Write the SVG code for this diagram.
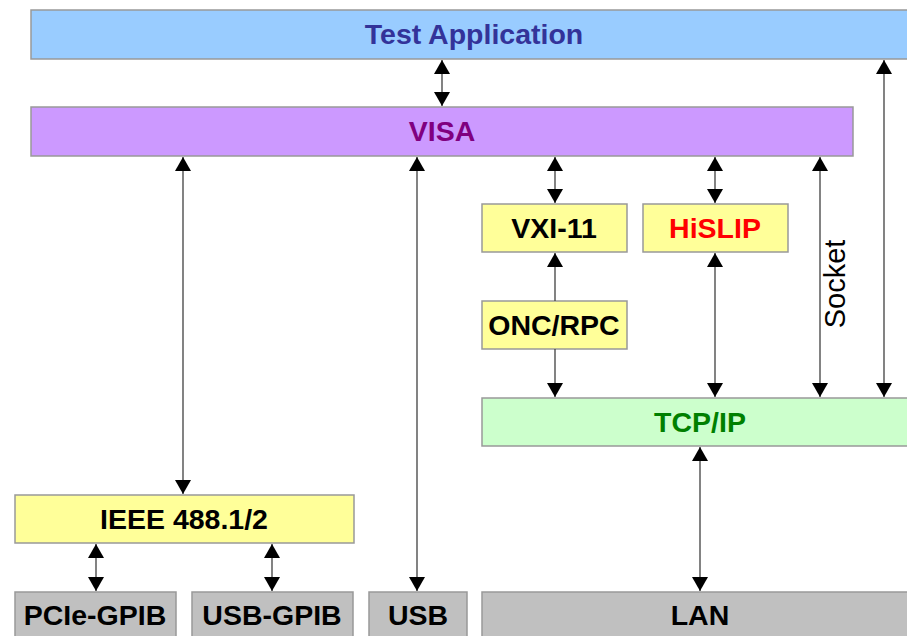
<svg xmlns="http://www.w3.org/2000/svg" width="907" height="636" viewBox="0 0 907 636">
<style>
.box{stroke:#999999;stroke-width:1.5}
.t{font-family:"Liberation Sans",Arial,sans-serif;font-weight:bold;font-size:28.5px;text-anchor:middle}
.c{stroke:#404040;stroke-width:1.3;fill:none}
</style>
<defs>
<marker id="ah" viewBox="0 0 14 16" refX="14" refY="8" markerWidth="14" markerHeight="16" markerUnits="userSpaceOnUse" orient="auto-start-reverse">
<path d="M0,0 L14,8 L0,16 z" fill="#000"/>
</marker>
</defs>
<rect width="907" height="636" fill="#fff"/>
<g id="app"><rect class="box" x="31" y="10" width="890" height="49" fill="#99ccff"/><text class="t" x="474" y="44" fill="#333399">Test Application</text></g>
<g id="visa"><rect class="box" x="31" y="107" width="822" height="49" fill="#cc99ff"/><text class="t" x="442" y="141" fill="#800080">VISA</text></g>
<g id="vxi11"><rect class="box" x="482" y="204" width="145" height="48" fill="#ffff99"/><text class="t" x="554" y="238" fill="#000">VXI-11</text></g>
<g id="hislip"><rect class="box" x="643" y="204" width="145" height="48" fill="#ffff99"/><text class="t" x="715" y="238" fill="#ff0000">HiSLIP</text></g>
<g id="oncrpc"><rect class="box" x="482" y="301" width="145" height="48" fill="#ffff99"/><text class="t" x="554" y="335" fill="#000">ONC/RPC</text></g>
<g id="tcpip"><rect class="box" x="482" y="398" width="440" height="48" fill="#ccffcc"/><text class="t" x="700" y="432" fill="#008000">TCP/IP</text></g>
<g id="ieee"><rect class="box" x="15" y="495" width="339" height="48" fill="#ffff99"/><text class="t" x="184" y="529" fill="#000">IEEE 488.1/2</text></g>
<g id="pcie"><rect class="box" x="15" y="592" width="161" height="60" fill="#c0c0c0"/><text class="t" x="95" y="625" fill="#000">PCIe-GPIB</text></g>
<g id="usbgpib"><rect class="box" x="192" y="592" width="161" height="60" fill="#c0c0c0"/><text class="t" x="272" y="625" fill="#000">USB-GPIB</text></g>
<g id="usb"><rect class="box" x="369" y="592" width="98" height="60" fill="#c0c0c0"/><text class="t" x="418" y="625" fill="#000">USB</text></g>
<g id="lan"><rect class="box" x="482" y="592" width="440" height="60" fill="#c0c0c0"/><text class="t" x="700" y="625" fill="#000">LAN</text></g>
<g id="connectors">
<line class="c" x1="442" y1="60" x2="442" y2="106" marker-start="url(#ah)" marker-end="url(#ah)"/>
<line class="c" x1="884" y1="60" x2="884" y2="397" marker-start="url(#ah)" marker-end="url(#ah)"/>
<line class="c" x1="183" y1="157" x2="183" y2="494" marker-start="url(#ah)" marker-end="url(#ah)"/>
<line class="c" x1="417" y1="157" x2="417" y2="591" marker-start="url(#ah)" marker-end="url(#ah)"/>
<line class="c" x1="555" y1="157" x2="555" y2="203" marker-start="url(#ah)" marker-end="url(#ah)"/>
<line class="c" x1="715" y1="157" x2="715" y2="203" marker-start="url(#ah)" marker-end="url(#ah)"/>
<line class="c" x1="820" y1="157" x2="820" y2="397" marker-start="url(#ah)" marker-end="url(#ah)"/>
<line class="c" x1="555" y1="301" x2="555" y2="253" marker-end="url(#ah)"/>
<line class="c" x1="555" y1="349" x2="555" y2="397" marker-end="url(#ah)"/>
<line class="c" x1="715" y1="253" x2="715" y2="397" marker-start="url(#ah)" marker-end="url(#ah)"/>
<line class="c" x1="700" y1="447" x2="700" y2="591" marker-start="url(#ah)" marker-end="url(#ah)"/>
<line class="c" x1="96" y1="544" x2="96" y2="591" marker-start="url(#ah)" marker-end="url(#ah)"/>
<line class="c" x1="272" y1="544" x2="272" y2="591" marker-start="url(#ah)" marker-end="url(#ah)"/>
<text x="845" y="284" transform="rotate(-90 845 284)" font-family="'Liberation Sans',Arial,sans-serif" font-size="29" text-anchor="middle" fill="#000">Socket</text>
</g>
</svg>
